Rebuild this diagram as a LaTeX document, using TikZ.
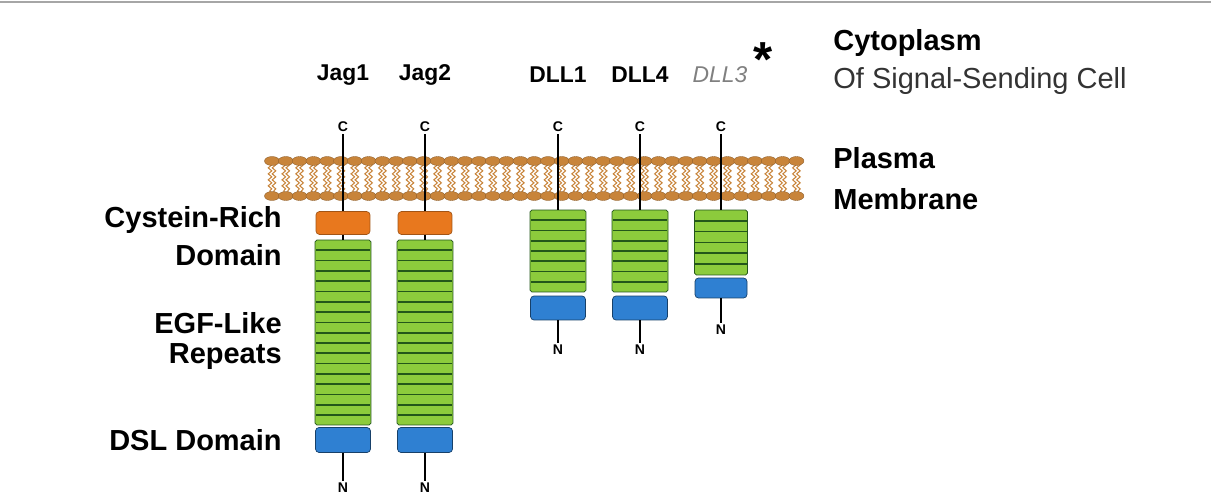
\documentclass[tikz,border=0pt]{standalone}
\usepackage{fontspec}
\setmainfont{Liberation Sans}
\usetikzlibrary{decorations.pathmorphing}
\definecolor{lipid}{HTML}{C8843A}
\definecolor{cysfill}{HTML}{E8781E}
\definecolor{egffill}{HTML}{8CCB3C}
\definecolor{egfline}{HTML}{23561A}
\definecolor{dslfill}{HTML}{2F80D2}
\tikzstyle{cys} = [rectangle, draw=cysfill!70!black, fill=cysfill, rounded corners=2pt, minimum width=1.08cm, minimum height=0.46cm, inner sep=0pt]
\tikzstyle{egf} = [rectangle, draw=egfline, fill=egffill, rounded corners=1pt, minimum width=1.12cm, inner sep=0pt]
\tikzstyle{dsl} = [rectangle, draw=dslfill!50!black, fill=dslfill, rounded corners=2pt, minimum width=1.1cm, minimum height=0.5cm, inner sep=0pt]
\tikzstyle{stripe} = [draw=egfline, line width=1pt]
\tikzstyle{term} = [font=\bfseries\fontsize{8}{9}\selectfont, inner sep=1pt]
\tikzstyle{title} = [font=\bfseries\fontsize{13}{15}\selectfont]
\tikzstyle{side} = [font=\bfseries\fontsize{16.5}{18}\selectfont, inner sep=0pt]
\tikzstyle{stem} = [draw, line width=1.3pt]
\tikzstyle{head} = [fill=lipid, draw=lipid!70!black, line width=0.2pt]
\tikzstyle{tail} = [draw=lipid, line width=0.6pt, decorate, decoration={snake, amplitude=0.035cm, segment length=0.12cm}]

\begin{document}
\begin{tikzpicture}[x=0.02cm, y=-0.02cm]
   \useasboundingbox (0,0) rectangle (1211,503);
   \draw[gray!70, line width=1pt] (0,2) -- (1211,2);

   % Membrane
   \foreach \i in {0,...,38} {
      \draw[tail] (270+\i*13.8,163) -- (270+\i*13.8,193);
      \draw[tail] (274+\i*13.8,163) -- (274+\i*13.8,193);
   }
   \foreach \i in {0,...,38} {
      \fill[head] (272+\i*13.8,161) ellipse (0.15cm and 0.09cm);
      \fill[head] (272+\i*13.8,196) ellipse (0.15cm and 0.09cm);
   }

   % Titles
   \node[title] (tJ1) at (343,75) {Jag1};
   \node[title] (tJ2) at (425,75) {Jag2};
   \node[title] (tD1) at (558,75) {DLL1};
   \node[title] (tD4) at (640,75) {DLL4};
   \node[font=\itshape\fontsize{13}{15}\selectfont, text=gray] (tD3) at (720,75) {DLL3};
   \node[font=\bfseries\fontsize{28}{28}\selectfont, inner sep=0pt] (star) at (763,60) {*};

   % Jagged
   \foreach \n/\x in {J1/343, J2/425} {
      \node[term] (\n c) at (\x,127) {C};
      \node[cys] (\n r) at (\x,223) {};
      \node[egf, minimum height=3.7cm] (\n e) at (\x,332.5) {};
      \foreach \k in {1,...,17}
         \draw[stripe] (\x-27,240+\k*10.3) -- (\x+27,240+\k*10.3);
      \node[dsl] (\n d) at (\x,440) {};
      \node[term] (\n n) at (\x,488) {N};
      \path[stem] (\n c) -- (\n r);
      \path[stem] (\n r) -- (\n e);
      \path[stem] (\n d) -- (\n n);
   }

   % Delta-like
   \foreach \n/\x in {D1/558, D4/640} {
      \node[term] (\n c) at (\x,127) {C};
      \node[egf, minimum height=1.64cm] (\n e) at (\x,251) {};
      \foreach \k in {1,...,7}
         \draw[stripe] (\x-27,210+\k*10.25) -- (\x+27,210+\k*10.25);
      \node[dsl, minimum height=0.48cm] (\n d) at (\x,308) {};
      \node[term] (\n n) at (\x,350) {N};
      \path[stem] (\n c) -- (\n e);
      \path[stem] (\n d) -- (\n n);
   }
   \node[term] (D3c) at (721,127) {C};
   \node[egf, minimum height=1.3cm, minimum width=1.06cm] (D3e) at (721,242.5) {};
   \foreach \k in {1,...,5}
      \draw[stripe] (695,210+\k*10.8) -- (747,210+\k*10.8);
   \node[dsl, minimum height=0.4cm, minimum width=1.04cm] (D3d) at (721,288) {};
   \node[term] (D3n) at (721,330) {N};
   \path[stem] (D3c) -- (D3e);
   \path[stem] (D3d) -- (D3n);

   % Labels
   \node[side, anchor=east] (lCys) at (282,220) {Cystein-Rich};
   \node[side, anchor=east] (lDom) at (282,255) {Domain};
   \node[side, anchor=east] (lEgf) at (282,323) {EGF-Like};
   \node[side, anchor=east] (lRep) at (282,357) {Repeats};
   \node[side, anchor=east] (lDsl) at (282,440) {DSL Domain};
   \node[side, anchor=west] (rCyt) at (833,43) {Cytoplasm};
   \node[font=\fontsize{16.5}{18}\selectfont, inner sep=0pt, anchor=west, text=black!80] (rSig) at (833,81) {Of Signal-Sending Cell};
   \node[side, anchor=west] (rPla) at (833,158) {Plasma};
   \node[side, anchor=west] (rMem) at (833,199) {Membrane};
\end{tikzpicture}
\end{document}
